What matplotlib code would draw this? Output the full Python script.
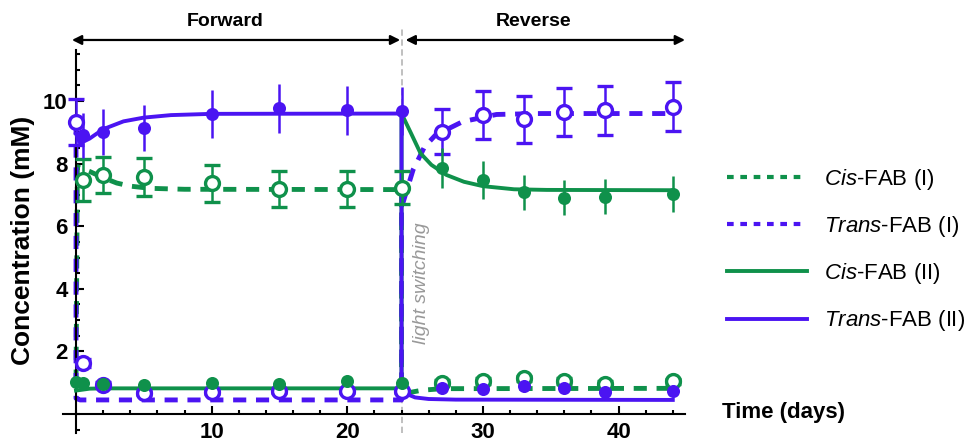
import numpy as np
import matplotlib
matplotlib.use("Agg")
import matplotlib.pyplot as plt
from matplotlib.lines import Line2D
from matplotlib.ticker import MultipleLocator, FixedLocator

plt.rcParams["font.family"] = ["Liberation Sans", "DejaVu Sans"]
plt.rcParams["mathtext.fontset"] = "custom"
plt.rcParams["mathtext.it"] = "Liberation Sans:italic"
plt.rcParams["mathtext.rm"] = "Liberation Sans"

nan = np.nan
PURPLE = "#4B14F2"
GREEN = "#0F914B"

# measured points (days, mM)
days = [0, 0.5, 2, 5, 10, 15, 20, 24, 27, 30, 33, 36, 39, 44]
cis_I = [nan, 7.48, 7.64, 7.58, 7.37, 7.18, 7.19, 7.23, 1.00, 1.06, 1.14, 1.06, 0.96, 1.05]
cis_I_err = [nan, 0.66, 0.57, 0.60, 0.59, 0.57, 0.57, 0.53, 0.08, 0.09, 0.09, 0.09, 0.08, 0.08]
trans_I = [9.34, 1.62, 0.93, 0.66, 0.71, 0.72, 0.72, 0.72, 9.02, 9.55, 9.41, 9.66, 9.71, 9.82]
trans_I_err = [0.73, 0.13, 0.08, 0.06, 0.06, 0.06, 0.06, 0.06, 0.72, 0.76, 0.76, 0.77, 0.78, 0.78]
cis_II = [1.03, 1.00, 0.96, 0.93, 1.00, 0.96, 1.06, 1.00, 7.85, 7.48, 7.08, 6.91, 6.94, 7.03]
cis_II_err = [0.08, 0.08, 0.08, 0.07, 0.08, 0.08, 0.08, 0.08, 0.64, 0.60, 0.57, 0.56, 0.56, 0.56]
trans_II = [nan, 8.91, 9.02, 9.13, 9.58, 9.77, 9.71, 9.69, 0.82, 0.79, 0.89, 0.82, 0.71, 0.73]
trans_II_err = [nan, 0.72, 0.73, 0.74, 0.77, 0.78, 0.78, 0.77, 0.07, 0.07, 0.07, 0.07, 0.06, 0.06]

# fitted model curves
fit_cis_I_t = [0, 0.1, 1, 2, 3, 4, 5.5, 8, 24, 24, 24.5, 25.5, 27, 44]
fit_cis_I_c = [1.0, 7.9, 7.75, 7.55, 7.38, 7.28, 7.21, 7.18, 7.17, 0.6, 0.68, 0.76, 0.81, 0.82]
fit_trans_I_t = [0, 0, 0.3, 24, 24, 24.85, 25.7, 26.5, 28.5, 31, 34, 44]
fit_trans_I_c = [9.34, 0.5, 0.45, 0.45, 6.6, 7.8, 8.54, 8.91, 9.34, 9.57, 9.6, 9.6]
fit_cis_II_t = [0, 1, 2, 24, 24, 24.7, 25.4, 26.2, 27.3, 28.6, 30, 32.3, 34.7, 44]
fit_cis_II_c = [0.75, 0.81, 0.82, 0.82, 9.6, 8.97, 8.33, 7.96, 7.64, 7.42, 7.28, 7.18, 7.16, 7.15]
fit_trans_II_t = [0, 0.3, 1, 2, 3.5, 5, 7, 10, 24, 24, 24.5, 25, 26, 28, 44]
fit_trans_II_c = [8.95, 8.65, 8.8, 9.1, 9.35, 9.47, 9.55, 9.59, 9.6, 0.85, 0.62, 0.53, 0.48, 0.46, 0.45]

switch_day = 24
phases = [("Forward", -0.3, 23.9, 11.0), ("Reverse", 24.3, 44.9, 33.7)]

fig = plt.figure(figsize=(9.67, 4.44), dpi=100)
ax = fig.add_axes([63 / 967, 11.2 / 444, 622 / 967, 382.8 / 444])
ax.set_xlim(-0.96, 44.9)
ax.set_ylim(-0.6, 11.63)

ax.axvline(switch_day, ymin=0, ymax=1.055, color="#bbbbbb", lw=1.3,
           dashes=(3.5, 2), clip_on=False, zorder=1)

dash = dict(lw=3.5, dashes=(2.7, 2.0))
ax.plot(fit_cis_I_t, fit_cis_I_c, color=GREEN, zorder=2, **dash)
ax.plot(fit_trans_I_t, fit_trans_I_c, color=PURPLE, zorder=2, **dash)
ax.plot(fit_cis_II_t, fit_cis_II_c, color=GREEN, lw=2.8, zorder=3)
ax.plot(fit_trans_II_t, fit_trans_II_c, color=PURPLE, lw=2.8, zorder=3)

eb = dict(ls="none", elinewidth=1.8, capsize=5.5, capthick=1.8)
ax.errorbar(days, cis_I, yerr=cis_I_err, color=GREEN, marker="o", ms=10,
            mfc="white", mew=2.4, zorder=4, **eb)
ax.errorbar(days, trans_I, yerr=trans_I_err, color=PURPLE, marker="o", ms=10,
            mfc="white", mew=2.4, zorder=4, **eb)
ax.errorbar(days, cis_II, yerr=cis_II_err, color=GREEN, marker="o", ms=9.4,
            mew=0, zorder=5, **eb)
ax.errorbar(days, trans_II, yerr=trans_II_err, color=PURPLE, marker="o", ms=9.4,
            mew=0, zorder=5, **eb)

# axes crossing at the origin
for s in ["top", "right"]:
    ax.spines[s].set_visible(False)
ax.spines["left"].set_position(("data", 0))
ax.spines["bottom"].set_position(("data", 0))
for s in ["left", "bottom"]:
    ax.spines[s].set_linewidth(1.5)

ax.xaxis.set_major_locator(FixedLocator([10, 20, 30, 40]))
ax.xaxis.set_minor_locator(MultipleLocator(2))
ax.yaxis.set_major_locator(FixedLocator([2, 4, 6, 8, 10]))
ax.yaxis.set_minor_locator(MultipleLocator(0.5))
ax.tick_params(which="both", direction="in", width=1.5)
ax.tick_params(which="major", length=5.5, labelsize=16)
ax.tick_params(which="minor", length=3)
ax.tick_params(axis="x", pad=5.5)
ax.tick_params(axis="y", pad=6)
for lab in ax.get_xticklabels() + ax.get_yticklabels():
    lab.set_fontweight("bold")

ax.text(25.5, 2.24, "light switching", rotation=90, ha="center", va="bottom",
        fontsize=14, style="italic", color="#999999")

for name, x0, x1, xt in phases:
    ax.annotate("", xy=(x1, 11.95), xytext=(x0, 11.95), annotation_clip=False,
                arrowprops=dict(arrowstyle="<|-|>", color="black", lw=1.6,
                                mutation_scale=14, shrinkA=0, shrinkB=0))
    ax.text(xt, 12.55, name, ha="center", va="center", fontsize=14,
            fontweight="bold", clip_on=False)

fig.text(23 / 967, 1 - 240 / 444, "Concentration (mM)", rotation=90,
         ha="center", va="center", fontsize=19, fontweight="bold")
fig.text(722 / 967, 1 - 412 / 444, "Time (days)", ha="left", va="center",
         fontsize=16, fontweight="bold")

handles = [
    Line2D([], [], color=GREEN, lw=3, dashes=(1.6, 1.6)),
    Line2D([], [], color=PURPLE, lw=3, dashes=(1.6, 1.6)),
    Line2D([], [], color=GREEN, lw=2.8),
    Line2D([], [], color=PURPLE, lw=2.8),
]
labels = [r"$\mathit{Cis}$-FAB (I)", r"$\mathit{Trans}$-FAB (I)",
          r"$\mathit{Cis}$-FAB (II)", r"$\mathit{Trans}$-FAB (II)"]
fig.legend(handles, labels, loc="center left", bbox_to_anchor=(727 / 967, 1 - 250 / 444),
           frameon=False, fontsize=16, handlelength=3.6, handletextpad=0.75,
           labelspacing=1.0, borderpad=0, borderaxespad=0)

fig.savefig("out.png", dpi=100)
